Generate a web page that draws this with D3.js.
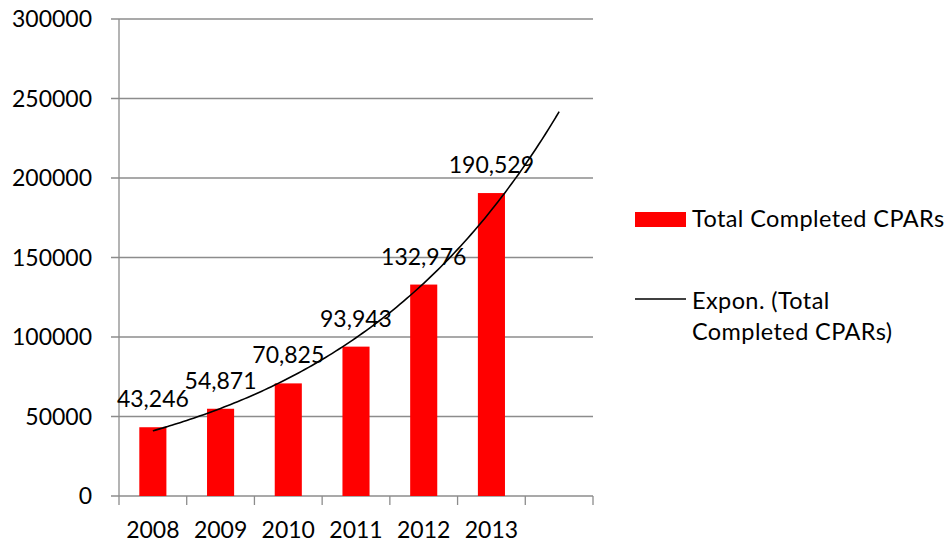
<!DOCTYPE html>
<html><head><meta charset="utf-8">
<script src="https://cdn.jsdelivr.net/npm/d3@7/dist/d3.min.js"></script>
<style>body{margin:0;background:#fff;}svg{display:block;font-family:Lato,"Open Sans",sans-serif;}</style>
</head><body>
<script>
const years = ["2008","2009","2010","2011","2012","2013"];
const categories = ["2008","2009","2010","2011","2012","2013",""];
const completed = [43246, 54871, 70825, 93943, 132976, 190529];
const dataLabels = ["43,246","54,871","70,825","93,943","132,976","190,529"];
const yTicks = [0, 50000, 100000, 150000, 200000, 250000, 300000];
const seriesName = "Total Completed CPARs";
const trendName = ["Expon. (Total", "Completed CPARs)"];

const W = 947, H = 544;
const svg = d3.select("body").append("svg").attr("width", W).attr("height", H);
const x = d3.scaleBand().domain(categories).range([119, 593]).paddingInner(0).paddingOuter(0);
const y = d3.scaleLinear().domain([0, 300000]).range([496, 19]);
const grid = "#8c8c8c";
const fs = 23;

// gridlines
svg.append("g").selectAll("line").data(yTicks).join("line")
  .attr("x1", 111).attr("x2", 593).attr("y1", d => y(d)).attr("y2", d => y(d))
  .attr("stroke", grid).attr("stroke-width", 1.3);
// y axis line
svg.append("line").attr("x1", 119).attr("x2", 119).attr("y1", y(300000)).attr("y2", y(0))
  .attr("stroke", grid).attr("stroke-width", 1.3);
// y labels
svg.append("g").selectAll("text").data(yTicks).join("text")
  .attr("x", 92).attr("y", d => y(d)).attr("dy", "0.36em").attr("text-anchor", "end")
  .attr("font-size", fs).attr("fill", "#000").text(d => d);
// x ticks at band boundaries
const bounds = categories.map(c => x(c)).concat([x.range()[1]]);
svg.append("g").selectAll("line").data(bounds).join("line")
  .attr("x1", d => d).attr("x2", d => d).attr("y1", y(0)).attr("y2", y(0) + 9)
  .attr("stroke", grid).attr("stroke-width", 1.3);
// x labels
svg.append("g").selectAll("text").data(categories).join("text")
  .attr("x", d => x(d) + x.bandwidth() / 2).attr("y", 538).attr("text-anchor", "middle")
  .attr("font-size", fs).attr("fill", "#000").text(d => d);

// bars
const bw = x.bandwidth() / 2.5;
svg.append("g").selectAll("rect").data(completed).join("rect")
  .attr("x", (d, i) => x(years[i]) + x.bandwidth() / 2 - bw / 2)
  .attr("y", d => y(d)).attr("width", bw).attr("height", d => y(0) - y(d))
  .attr("fill", "#ff0000");

// exponential trendline fitted to the data (least squares on ln y)
const xs = completed.map((d, i) => i + 1);
const ly = completed.map(d => Math.log(d));
const mx = d3.mean(xs), my = d3.mean(ly);
const b = d3.sum(xs.map((v, i) => (v - mx) * (ly[i] - my))) / d3.sum(xs.map(v => (v - mx) ** 2));
const a = my - b * mx;
const tpts = d3.range(1, 7.0001, 0.05).map(t => [t, Math.exp(a + b * t)]);
const tx = t => x(categories[0]) + x.bandwidth() * (t - 0.5);
svg.append("path").datum(tpts)
  .attr("d", d3.line().x(d => tx(d[0])).y(d => y(d[1])).curve(d3.curveBasis))
  .attr("fill", "none").attr("stroke", "#000").attr("stroke-width", 1.6);

// data labels
svg.append("g").selectAll("text").data(completed).join("text")
  .attr("x", (d, i) => x(years[i]) + x.bandwidth() / 2).attr("y", d => y(d) - 20)
  .attr("text-anchor", "middle").attr("font-size", fs).attr("fill", "#000")
  .text((d, i) => dataLabels[i]);

// legend
const lg = svg.append("g").attr("font-size", 23.5).attr("letter-spacing", 0.4);
lg.append("rect").attr("x", 635).attr("y", 212).attr("width", 51).attr("height", 15).attr("fill", "#ff0000");
lg.append("text").attr("x", 692).attr("y", 227).text(seriesName);
lg.append("line").attr("x1", 635).attr("x2", 686).attr("y1", 299).attr("y2", 299).attr("stroke", "#000").attr("stroke-width", 1.6);
lg.append("text").attr("x", 692).attr("y", 309).text(trendName[0]);
lg.append("text").attr("x", 692).attr("y", 340).text(trendName[1]);
</script>
</body></html>
